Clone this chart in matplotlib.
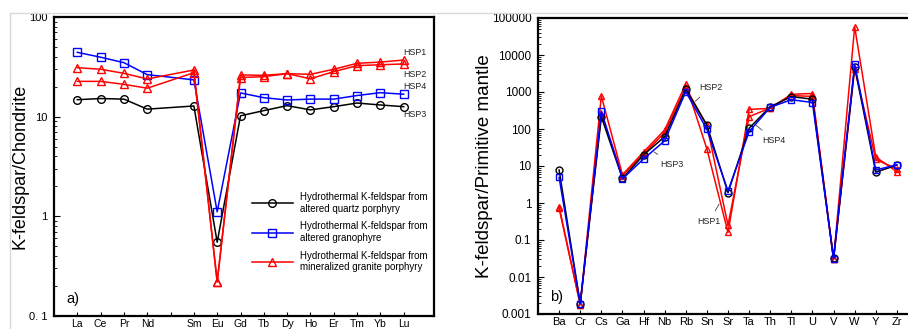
import matplotlib
matplotlib.use('Agg')
import matplotlib.pyplot as plt
from matplotlib.lines import Line2D
import numpy as np

plt.rcParams['font.family'] = ['Liberation Sans', 'DejaVu Sans']

# a) REE, chondrite normalised
REE = ['La', 'Ce', 'Pr', 'Nd', 'Pm', 'Sm', 'Eu', 'Gd', 'Tb', 'Dy', 'Ho', 'Er', 'Tm', 'Yb', 'Lu']
REE_used = ['La', 'Ce', 'Pr', 'Nd', 'Sm', 'Eu', 'Gd', 'Tb', 'Dy', 'Ho', 'Er', 'Tm', 'Yb', 'Lu']
ree_hsp3 = [14.8, 15.2, 15.0, 11.9, 12.8, 0.55, 10.2, 11.5, 12.9, 11.7, 12.6, 13.7, 13.1, 12.6]
ree_hsp4 = [44.2, 39.5, 34.8, 26.4, 23.4, 1.11, 17.3, 15.5, 14.7, 15.0, 15.0, 16.3, 17.4, 16.8]
ree_hsp1 = [31.0, 29.9, 27.2, 23.9, 29.4, 0.22, 26.2, 26.0, 27.0, 26.6, 29.9, 34.3, 35.3, 37.0]
ree_hsp2 = [22.6, 22.6, 21.1, 19.3, 27.6, 0.22, 24.7, 25.2, 27.0, 24.0, 28.3, 32.5, 33.2, 33.8]

# b) trace elements, primitive mantle normalised
TE = ['Ba', 'Cr', 'Cs', 'Ga', 'Hf', 'Nb', 'Rb', 'Sn', 'Sr', 'Ta', 'Th', 'Tl', 'U', 'V', 'W', 'Y', 'Zr']
te_hsp3 = [7.8, 0.0019, 215, 4.6, 20, 62, 1180, 128, 1.9, 105, 400, 750, 640, 0.032, 4800, 6.8, 10.6]
te_hsp4 = [4.9, 0.0019, 306, 4.5, 15.5, 48, 1020, 98, 2.1, 85, 385, 620, 520, 0.031, 5700, 7.8, 10.8]
te_hsp1 = [0.8, 0.0018, 780, 5.8, 24, 94, 1650, 29, 0.16, 340, 360, 870, 910, 0.03, 58000, 17.5, 7.0]
te_hsp2 = [0.72, 0.0018, 250, 5.5, 21, 80, 1300, 125, 0.25, 215, 370, 800, 760, 0.03, 4300, 15, 8.3]

labels = ['Hydrothermal K-feldspar from\naltered quartz porphyry',
          'Hydrothermal K-feldspar from\naltered granophyre',
          'Hydrothermal K-feldspar from\nmineralized granite porphyry']

fig = plt.figure(figsize=(9.08, 3.29), dpi=100)

# light grey frame of the composite picture
fig.add_artist(Line2D([10/908, 1.0], [1-13/329, 1-13/329], color='#d9d9d9', lw=1))
fig.add_artist(Line2D([10/908, 10/908], [0, 1-13/329], color='#d9d9d9', lw=1))

ax1 = fig.add_axes([54/908, 1-316/329, 380/908, 299/329])
ax2 = fig.add_axes([538/908, 1-314/329, 380/908, 296/329])

lw = 1.1
ms = 5.5
x1 = [REE.index(e) + 1 for e in REE_used]
ax1.plot(x1, ree_hsp3, '-o', color='k', lw=lw, ms=ms, mfc='none', mew=1)
ax1.plot(x1, ree_hsp4, '-s', color='blue', lw=lw, ms=ms, mfc='none', mew=1)
ax1.plot(x1, ree_hsp1, '-^', color='red', lw=lw, ms=ms, mfc='none', mew=1)
ax1.plot(x1, ree_hsp2, '-^', color='red', lw=lw, ms=ms, mfc='none', mew=1)

ax1.set_yscale('log')
ax1.set_ylim(0.1, 100)
ax1.set_xlim(0, 16.3)
ax1.set_xticks(range(1, len(REE) + 1))
ax1.set_xticklabels([e if e != 'Pm' else '' for e in REE], fontsize=7.5)
ax1.set_yticks([0.1, 1, 10, 100])
ax1.set_yticklabels(['0. 1', '1', '10', '100'], fontsize=8)
ax1.set_ylabel('K-feldspar/Chondrite', fontsize=13)
ax1.yaxis.set_label_coords(-0.066, 0.5)
ax1.text(0.033, 0.057, 'a)', transform=ax1.transAxes, fontsize=10.5, va='center')

for txt, yy in [('HSP1', 43.6), ('HSP2', 26.2), ('HSP4', 19.9), ('HSP3', 10.4)]:
    ax1.text(15.49, yy, txt, fontsize=6.4, ha='center', va='center', color='#222222')

handles = [Line2D([], [], color='k', marker='o', mfc='none', lw=lw, ms=ms),
           Line2D([], [], color='blue', marker='s', mfc='none', lw=lw, ms=ms),
           Line2D([], [], color='red', marker='^', mfc='none', lw=lw, ms=ms)]
ax1.legend(handles, labels, loc='upper left', bbox_to_anchor=(0.521, 0.415), frameon=False,
           fontsize=7, handlelength=4.2, handletextpad=0.7, labelspacing=0.8,
           borderpad=0, borderaxespad=0)

# b)
x2 = np.arange(1, len(TE) + 1)
ax2.plot(x2, te_hsp1, '-^', color='red', lw=lw, ms=5, mfc='none', mew=1)
ax2.plot(x2, te_hsp2, '-^', color='red', lw=lw, ms=5, mfc='none', mew=1)
ax2.plot(x2, te_hsp3, '-o', color='k', lw=lw, ms=5, mfc='none', mew=1)
ax2.plot(x2, te_hsp4, '-s', color='blue', lw=lw, ms=5, mfc='none', mew=1)

ax2.set_yscale('log')
ax2.set_ylim(0.001, 100000)
ax2.set_xlim(0, 18)
ax2.set_xticks(x2)
ax2.set_xticklabels(TE, fontsize=8)
ax2.set_yticks([0.001, 0.01, 0.1, 1, 10, 100, 1000, 10000, 100000])
ax2.set_yticklabels(['0.001', '0.01', '0.1', '1', '10', '100', '1000', '10000', '100000'], fontsize=8.5)
ax2.set_ylabel('K-feldspar/Primitive mantle', fontsize=13.5)
ax2.yaxis.set_label_coords(-0.118, 0.5)
ax2.text(0.033, 0.058, 'b)', transform=ax2.transAxes, fontsize=10.5, va='center')

# leader line labels
for txt, xt, yt, xa, ya in [('HSP2', 8.18, 1365, 7.45, 560),
                            ('HSP3', 6.33, 11.3, 5.5, 24),
                            ('HSP4', 11.18, 50, 10.32, 128),
                            ('HSP1', 8.1, 0.31, 8.58, 0.94)]:
    ax2.annotate(txt, xy=(xa, ya), xytext=(xt, yt), fontsize=6.4, ha='center', va='center',
                 color='#222222', arrowprops=dict(arrowstyle='-', color='#444444', lw=0.6,
                                                   shrinkA=3, shrinkB=0))

for ax in (ax1, ax2):
    for s in ax.spines.values():
        s.set_linewidth(1.6)
    ax.tick_params(axis='both', which='both', direction='in')
    ax.tick_params(axis='y', which='major', length=4, pad=4.8)
    ax.tick_params(axis='y', which='minor', length=2)
    ax.tick_params(axis='x', which='major', length=3, pad=2.5)
    ax.xaxis.set_minor_locator(matplotlib.ticker.NullLocator())

plt.savefig('out.png', dpi=100)
